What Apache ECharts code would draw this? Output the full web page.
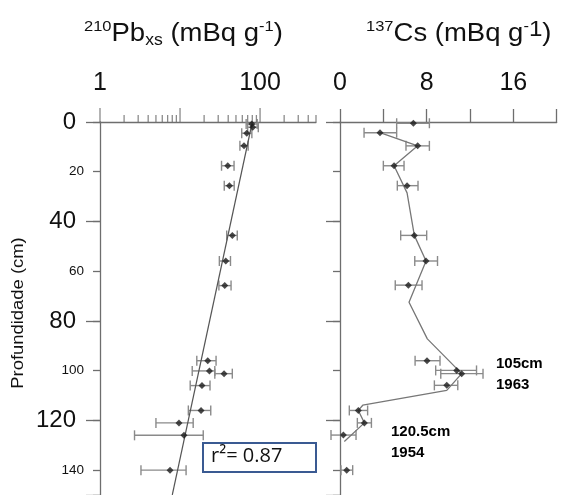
<!DOCTYPE html>
<html><head><meta charset="utf-8">
<script src="https://cdn.jsdelivr.net/npm/echarts@6/dist/echarts.min.js"></script>
<style>html,body{margin:0;padding:0;background:#fff}#c{width:562px;height:495px}</style>
</head><body><div id="c"></div>
<script>
// ---- 210Pb_xs profile ----
const pbDepth = [0.8, 2.1, 4.5, 9.6, 17.6, 25.6, 45.6, 55.9, 65.8, 96, 100.1, 101.2, 106, 116, 121, 126, 140];
const pbValue = [78.8, 81, 68.2, 63, 39.5, 41.4, 45, 37.3, 36.2, 22.2, 23.3, 35.5, 18.8, 18.3, 9.7, 11.2, 7.5];
const pbLow   = [67, 70, 59, 56, 33, 35.7, 38.3, 31, 30.6, 16.2, 14.2, 27.2, 13.4, 12.7, 5, 2.7, 3.25];
const pbHigh  = [92, 95, 79, 71, 47.3, 47.5, 51.9, 42.7, 43.4, 28.2, 27.2, 45, 23.7, 24.2, 14.6, 19.5, 11.9];
const pbFitDepth = [0, 150];
const pbFitValue = [80, 8];
const pbMajorTicks = [1, 10, 100];
const pbMinorTicks = [2,3,4,5,6,7,8,9,20,30,40,50,60,70,80,90,200,300,400,500];
const pbAxisLabels = [1, 100];

// ---- 137Cs profile ----
const csDepth = [0.5, 4.3, 9.6, 17.6, 25.6, 45.6, 55.9, 65.6, 96, 99.9, 101.2, 105.9, 116, 121, 125.9, 140];
const csValue = [6.77, 3.69, 7.17, 4.99, 6.19, 6.86, 7.94, 6.31, 8.03, 10.77, 11.23, 9.85, 1.69, 2.25, 0.31, 0.62];
const csLow   = [5.23, 2.22, 6.09, 4.0, 5.29, 5.6, 6.9, 5.1, 6.93, 8.83, 9.3, 8.71, 0.86, 1.6, -0.83, 0.09];
const csHigh  = [8.25, 5.23, 8.25, 5.91, 7.2, 8.0, 9.0, 7.57, 9.23, 12.6, 13.2, 10.87, 2.55, 2.9, 1.48, 1.17];
const csLineDepth = [4.3, 9.6, 17.6, 28.5, 45.6, 55.9, 72.5, 87.2, 101.2, 107.9, 113.9, 116, 121, 128.5];
const csLineValue = [3.69, 7.17, 4.99, 6.19, 6.86, 7.94, 6.37, 8.06, 11.23, 9.85, 2.1, 1.69, 2.25, 0.4];
const csAxisLabels = [0, 8, 16];

const depthBigLabels = [0, 40, 80, 120];
const depthSmallLabels = [20, 60, 100, 140];
const depthTitle = 'Profundidade (cm)';

const AX = '#6e6e6e';
const FONT = 'Liberation Sans, Arial, sans-serif';

function errRender(params, api) {
  const y = api.value(2);
  const p1 = api.coord([api.value(0), y]);
  const p2 = api.coord([api.value(1), y]);
  const h = 5;
  const st = {stroke: '#8a8a8a', lineWidth: 1.4};
  return {type: 'group', children: [
    {type: 'line', shape: {x1: p1[0], y1: p1[1], x2: p2[0], y2: p2[1]}, style: st},
    {type: 'line', shape: {x1: p1[0], y1: p1[1] - h, x2: p1[0], y2: p1[1] + h}, style: st},
    {type: 'line', shape: {x1: p2[0], y1: p2[1] - h, x2: p2[0], y2: p2[1] + h}, style: st}
  ]};
}

function depthAxes(gi, withLabels) {
  const base = {
    type: 'value', gridIndex: gi, inverse: true, min: 0, max: 150, position: 'left', offset: 0,
    splitLine: {show: false}
  };
  return [
    Object.assign({}, base, {
      interval: 40,
      axisLine: {show: true, onZero: false, lineStyle: {color: AX, width: 1.3}},
      axisTick: {show: true, length: 14, lineStyle: {color: AX, width: 1.3}},
      axisLabel: {show: withLabels, margin: 24, fontSize: 24, color: '#111', fontFamily: FONT,
        formatter: v => depthBigLabels.indexOf(v) >= 0 ? String(v) : ''}
    }),
    Object.assign({}, base, {
      interval: 20,
      axisLine: {show: false, onZero: false},
      axisTick: {show: true, length: 7, lineStyle: {color: AX, width: 1.3}},
      axisLabel: {show: withLabels, margin: 16, fontSize: 13.5, color: '#111', fontFamily: FONT,
        formatter: v => depthSmallLabels.indexOf(v) >= 0 ? String(v) : ''}
    })
  ];
}

const chart = echarts.init(document.getElementById('c'), null, {renderer: 'canvas'});
const titleRich = {
  main: {fontSize: 25, fontFamily: FONT, fill: '#111', lineHeight: 30},
  sup: {fontSize: 15, fontFamily: FONT, fill: '#111', lineHeight: 16, verticalAlign: 'top'},
  sup2: {fontSize: 22, fontFamily: FONT, fill: '#111', lineHeight: 22, verticalAlign: 'top'},
  sub: {fontSize: 16, fontFamily: FONT, fill: '#111', lineHeight: 14, verticalAlign: 'bottom'}
};
chart.setOption({
  animation: false,
  backgroundColor: '#fff',
  grid: [
    {left: 100, top: 122, width: 216, height: 375},
    {left: 340, top: 122, width: 216.7, height: 375}
  ],
  xAxis: [
    {type: 'log', logBase: 10, gridIndex: 0, min: 1, max: 500, position: 'top',
     axisLine: {onZero: false, lineStyle: {color: AX, width: 1.3}},
     axisTick: {show: false}, splitLine: {show: false}, minorTick: {show: false},
     axisLabel: {margin: 26, fontSize: 25, color: '#111', fontFamily: FONT,
       formatter: v => pbAxisLabels.some(t => Math.abs(t - v) < 1e-6) ? String(Math.round(v)) : ''}},
    {type: 'value', gridIndex: 1, min: 0, max: 20, interval: 4, position: 'top',
     axisLine: {onZero: false, lineStyle: {color: AX, width: 1.3}},
     axisTick: {show: true, length: 13, lineStyle: {color: AX, width: 1.3}},
     splitLine: {show: false},
     axisLabel: {margin: 26, fontSize: 25, color: '#111', fontFamily: FONT,
       formatter: v => csAxisLabels.indexOf(v) >= 0 ? String(v) : ''}}
  ],
  yAxis: [].concat(depthAxes(0, true), depthAxes(1, false)),
  graphic: [
    {type: 'text', x: 84, y: 19, scaleX: 1.1,
     style: {text: '{sup|210}{main|Pb}{sub|xs}{main| (mBq g}{sup|-1}{main|)}', rich: titleRich}},
    {type: 'text', x: 366, y: 19, scaleX: 1.1,
     style: {text: '{sup|137}{main|Cs (mBq g}{sup|-}{sup2|1}{main|)}', rich: titleRich}},
    {type: 'text', x: 19, y: 313, rotation: Math.PI / 2, scaleX: 1.15,
     style: {text: depthTitle, fontSize: 16, fontFamily: FONT, fill: '#111', align: 'center', verticalAlign: 'middle'}},
    {type: 'rect', shape: {x: 203, y: 443, width: 113, height: 29},
     style: {fill: '#fff', stroke: '#3a5a92', lineWidth: 2}, z: 100},
    {type: 'text', x: 211, y: 446, z: 101,
     style: {text: 'r²= 0.87', fontSize: 20, fontFamily: 'Open Sans, sans-serif', fill: '#111'}},
    {type: 'text', x: 496, y: 356, style: {text: '105cm', fontSize: 15, fontWeight: 'bold', fontFamily: FONT, fill: '#000'}},
    {type: 'text', x: 496, y: 377, style: {text: '1963', fontSize: 15, fontWeight: 'bold', fontFamily: FONT, fill: '#000'}},
    {type: 'text', x: 391, y: 424, style: {text: '120.5cm', fontSize: 15, fontWeight: 'bold', fontFamily: FONT, fill: '#000'}},
    {type: 'text', x: 391, y: 445, style: {text: '1954', fontSize: 15, fontWeight: 'bold', fontFamily: FONT, fill: '#000'}}
  ],
  series: [
    {type: 'scatter', xAxisIndex: 0, yAxisIndex: 0, clip: false, silent: true,
     data: pbMajorTicks.map(v => [v, 0]), symbol: 'rect', symbolSize: [1.3, 14], symbolOffset: [0, -7],
     itemStyle: {color: AX}},
    {type: 'scatter', xAxisIndex: 0, yAxisIndex: 0, clip: false, silent: true,
     data: pbMinorTicks.map(v => [v, 0]), symbol: 'rect', symbolSize: [1.3, 7], symbolOffset: [0, -3.5],
     itemStyle: {color: AX}},
    {type: 'line', xAxisIndex: 0, yAxisIndex: 0, data: pbFitDepth.map((d, i) => [pbFitValue[i], d]),
     symbol: 'none', lineStyle: {color: '#555', width: 1.2}},
    {type: 'custom', xAxisIndex: 0, yAxisIndex: 0, clip: false, renderItem: errRender,
     encode: {x: [0, 1], y: 2}, data: pbDepth.map((d, i) => [pbLow[i], pbHigh[i], d])},
    {type: 'scatter', xAxisIndex: 0, yAxisIndex: 0, symbol: 'diamond', symbolSize: 7,
     itemStyle: {color: '#1c1c1c'}, data: pbDepth.map((d, i) => [pbValue[i], d]), z: 5},
    {type: 'line', xAxisIndex: 1, yAxisIndex: 2, data: csLineDepth.map((d, i) => [csLineValue[i], d]),
     symbol: 'none', lineStyle: {color: '#777', width: 1.3}},
    {type: 'custom', xAxisIndex: 1, yAxisIndex: 2, clip: false, renderItem: errRender,
     encode: {x: [0, 1], y: 2}, data: csDepth.map((d, i) => [csLow[i], csHigh[i], d])},
    {type: 'scatter', xAxisIndex: 1, yAxisIndex: 2, symbol: 'diamond', symbolSize: 7,
     itemStyle: {color: '#1c1c1c'}, data: csDepth.map((d, i) => [csValue[i], d]), z: 5}
  ]
});
</script></body></html>
